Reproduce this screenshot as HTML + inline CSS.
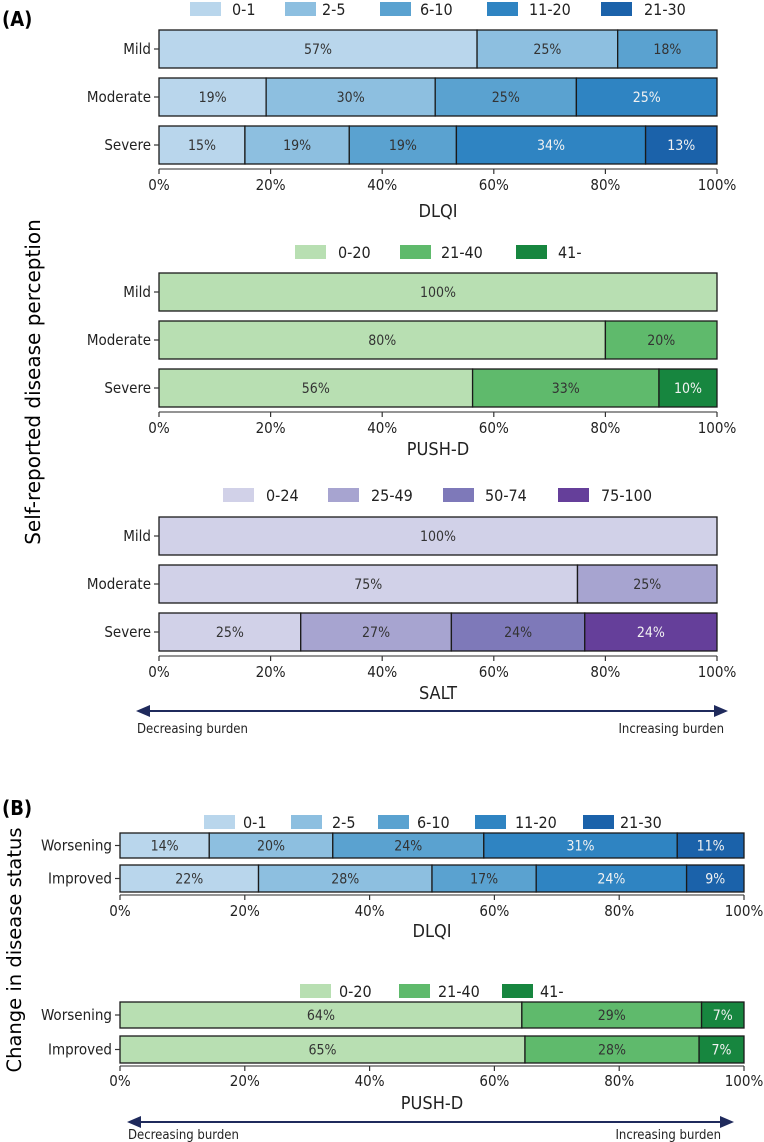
<!DOCTYPE html>
<html><head><meta charset="utf-8"><style>
html,body{margin:0;padding:0;background:#fff}
svg{display:block;font-family:"DejaVu Sans Condensed","DejaVu Sans","Liberation Sans",sans-serif;font-stretch:condensed}
</style></head><body>
<svg id="fig" width="764" height="1142" viewBox="0 0 764 1142" xmlns="http://www.w3.org/2000/svg">
<defs><marker id="ah" markerWidth="8" markerHeight="8" refX="4" refY="4" orient="auto-start-reverse"><path d="M0,1 L7,4 L0,7 z" fill="#1f2a5c"/></marker></defs>
<text x="2" y="26" font-size="20" font-weight="bold">(A)</text>
<text x="2" y="815" font-size="20" font-weight="bold">(B)</text>
<text transform="translate(40,382) rotate(-90)" text-anchor="middle" font-size="20" style="font-family:'DejaVu Sans',sans-serif;font-stretch:normal">Self-reported disease perception</text>
<text transform="translate(21,950) rotate(-90)" text-anchor="middle" font-size="19.5" style="font-family:'DejaVu Sans',sans-serif;font-stretch:normal">Change in disease status</text>
<line x1="142" y1="711" x2="722" y2="711" stroke="#1f2a5c" stroke-width="2" marker-start="url(#ah)" marker-end="url(#ah)"/>
<text x="137" y="733" font-size="13" fill="#222">Decreasing burden</text>
<text x="724" y="733" font-size="13" fill="#222" text-anchor="end">Increasing burden</text>
<line x1="133" y1="1122" x2="728" y2="1122" stroke="#1f2a5c" stroke-width="2" marker-start="url(#ah)" marker-end="url(#ah)"/>
<text x="128" y="1139" font-size="13" fill="#222">Decreasing burden</text>
<text x="721" y="1139" font-size="13" fill="#222" text-anchor="end">Increasing burden</text>
</svg>
<script>
const dlqiCats = ["0-1","2-5","6-10","11-20","21-30"];
const pushCats = ["0-20","21-40","41-"];
const saltCats = ["0-24","25-49","50-74","75-100"];
const severityRows = ["Mild","Moderate","Severe"];
const changeRows = ["Worsening","Improved"];
const dlqiA = [[57,25.2,17.8,0,0],[19.2,30.3,25.3,25.2,0],[15.4,18.7,19.2,33.9,12.8]];
const pushA = [[100,0,0],[80,20,0],[56.2,33.4,10.4]];
const saltA = [[100,0,0,0],[75,25,0,0],[25.4,27.0,23.9,23.7]];
const dlqiB = [[14.3,19.8,24.2,31.0,10.7],[22.2,27.8,16.7,24.1,9.2]];
const pushB = [[64.4,28.8,6.8],[64.9,27.9,7.2]];
const xTicks = [0,20,40,60,80,100];

const blues = ["#b9d6ec","#8dbfe0","#5aa2d0","#2f84c2","#1b62aa"];
const greens = ["#b8dfb2","#5fba6c","#17863f"];
const purples = ["#d1d1e8","#a7a4d0","#7e79b9","#653f9a"];
const NS="http://www.w3.org/2000/svg";
const svg=document.getElementById('fig');
function mk(tag,attrs,parent){const e=document.createElementNS(NS,tag);for(const k in attrs)e.setAttribute(k,attrs[k]);(parent||svg).appendChild(e);return e;}

function panel(cfg){
  const g=mk('g',{});
  
  
  const xs=v=>cfg.x0+(cfg.x1-cfg.x0)*v/100;
  cfg.cats.forEach((c,i)=>{
    const r=mk('rect',{x:cfg.leg[i][0],y:cfg.legY-7,width:31,height:14,fill:cfg.colors[i]},g);
    
    
    const t=mk('text',{x:cfg.leg[i][1],y:cfg.legY+6,'font-size':16,fill:'#222'},g);
    t.textContent=c;
    
    
  });
  cfg.rows.forEach((row,ri)=>{
    const [yt,yb]=cfg.barY[ri];
    let acc=0;
    cfg.data[ri].forEach((v,ci)=>{
      if(v<=0)return;
      const xa=xs(acc), xb=xs(Math.min(100,acc+v));
      const r=mk('rect',{x:xa,y:yt,width:xb-xa,height:yb-yt,fill:cfg.colors[ci],stroke:'#1a1a1a','stroke-width':1.3},g);
      
      
      const t=mk('text',{x:(xa+xb)/2,y:(yt+yb)/2+5,'text-anchor':'middle','font-size':14,fill:ci>=cfg.whiteFrom?'#f2f2f2':'#333'},g);
      t.textContent=Math.round(v)+'%';
      
      
      acc+=v;
    });
    const ym=(yt+yb)/2;
    mk('line',{x1:cfg.x0-5,x2:cfg.x0,y1:ym,y2:ym,stroke:'#333','stroke-width':1.2},g);
    const l=mk('text',{x:cfg.x0-8,y:ym+5,'text-anchor':'end','font-size':15,fill:'#222'},g);
    l.textContent=row;
    
    
  });
  const ay=cfg.axisY;
  mk('line',{x1:cfg.x0,x2:cfg.x1,y1:ay,y2:ay,stroke:'#555','stroke-width':1.2},g);
  xTicks.forEach(tv=>{
    const x=xs(tv);
    mk('line',{x1:x,x2:x,y1:ay,y2:ay+5,stroke:'#333','stroke-width':1.2},g);
    const t=mk('text',{x:x,y:cfg.tickY+5,'text-anchor':'middle','font-size':15,fill:'#222'},g);
    t.textContent=tv+'%';
    
    
  });
  const xt=mk('text',{x:(cfg.x0+cfg.x1)/2,y:cfg.titleY+6,'text-anchor':'middle','font-size':18,fill:'#222'},g);
  xt.textContent=cfg.title;
  
  
}

panel({name:'dlqi-severity-chart',cats:dlqiCats,colors:blues,data:dlqiA,rows:severityRows,x0:159,x1:717,whiteFrom:3,
  leg:[[190,232],[285,322],[380,420],[487,529],[601,644]],legY:9,
  barY:[[30,68],[78,116],[126,164]],axisY:169,tickY:185,titleY:211,title:'DLQI'});
panel({name:'pushd-severity-chart',cats:pushCats,colors:greens,data:pushA,rows:severityRows,x0:159,x1:717,whiteFrom:2,
  leg:[[295,338],[400,441],[516,558]],legY:252,
  barY:[[273,311],[321,359],[369,407]],axisY:412,tickY:428,titleY:449,title:'PUSH-D'});
panel({name:'salt-severity-chart',cats:saltCats,colors:purples,data:saltA,rows:severityRows,x0:159,x1:717,whiteFrom:3,
  leg:[[223,266],[328,371],[443,485],[558,601]],legY:495,
  barY:[[517,555],[565,603],[613,651]],axisY:656,tickY:672,titleY:693,title:'SALT'});
panel({name:'dlqi-change-chart',cats:dlqiCats,colors:blues,data:dlqiB,rows:changeRows,x0:120,x1:744,whiteFrom:3,
  leg:[[204,243],[291,332],[378,417],[475,515],[583,620]],legY:822,
  barY:[[833,858],[865,892]],axisY:895,tickY:911,titleY:931,title:'DLQI'});
panel({name:'pushd-change-chart',cats:pushCats,colors:greens,data:pushB,rows:changeRows,x0:120,x1:744,whiteFrom:2,
  leg:[[300,339],[399,438],[502,540]],legY:991,
  barY:[[1002,1028],[1036,1063]],axisY:1066,tickY:1081,titleY:1103,title:'PUSH-D'});
</script>
</body></html>
